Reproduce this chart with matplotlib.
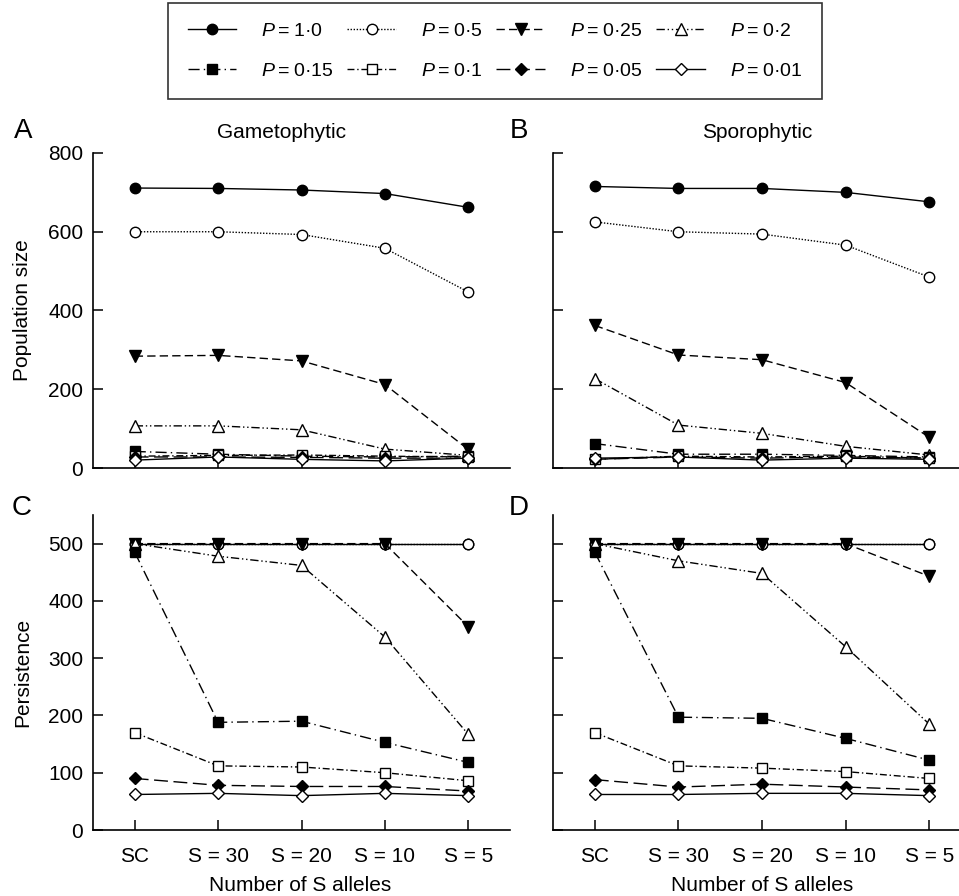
import matplotlib.pyplot as plt

plt.rcParams["font.family"] = ["Liberation Sans", "DejaVu Sans"]
plt.rcParams["mathtext.fontset"] = "custom"
plt.rcParams["mathtext.it"] = "Liberation Sans:italic"
plt.rcParams["mathtext.rm"] = "Liberation Sans"

categories = ["SC", "S = 30", "S = 20", "S = 10", "S = 5"]
p_labels = ["1·0", "0·5", "0·25", "0·2", "0·15", "0·1", "0·05", "0·01"]

# population size, gametophytic SI (panel A)
pop_gam = [
    [711, 710, 706, 697, 662],
    [600, 600, 593, 558, 447],
    [284, 286, 272, 212, 47],
    [107, 107, 97, 48, 32],
    [42, 35, 30, 28, 30],
    [30, 32, 33, 30, 28],
    [28, 28, 27, 25, 25],
    [20, 28, 22, 18, 25],
]
# population size, sporophytic SI (panel B)
pop_spo = [
    [715, 710, 710, 700, 676],
    [625, 600, 594, 566, 485],
    [362, 287, 275, 217, 78],
    [227, 109, 88, 55, 33],
    [62, 35, 35, 32, 28],
    [22, 30, 28, 30, 25],
    [22, 28, 25, 28, 25],
    [25, 28, 20, 25, 22],
]
# persistence, gametophytic SI (panel C)
pers_gam = [
    [500, 500, 500, 500, 500],
    [500, 500, 500, 500, 500],
    [500, 500, 500, 500, 355],
    [500, 478, 462, 337, 167],
    [485, 188, 190, 153, 118],
    [170, 112, 110, 100, 86],
    [90, 78, 76, 76, 68],
    [62, 64, 60, 64, 60],
]
# persistence, sporophytic SI (panel D)
pers_spo = [
    [500, 500, 500, 500, 500],
    [500, 500, 500, 500, 500],
    [500, 500, 500, 500, 443],
    [500, 470, 448, 320, 185],
    [485, 197, 195, 160, 122],
    [170, 112, 108, 102, 90],
    [88, 75, 80, 75, 70],
    [62, 62, 64, 64, 60],
]

styles = [
    dict(ls="-", marker="o", mfc="k", ms=7.5),
    dict(ls=(0, (1, 1.2)), marker="o", mfc="white", ms=7.5),
    dict(ls=(0, (6, 3)), marker="v", mfc="k", ms=8.5),
    dict(ls=(0, (6, 2, 1, 2, 1, 2)), marker="^", mfc="white", ms=8.5),
    dict(ls=(0, (8, 3, 1, 3)), marker="s", mfc="k", ms=6.5),
    dict(ls=(0, (5, 2, 1, 2)), marker="s", mfc="white", ms=6.5),
    dict(ls=(0, (10, 4)), marker="D", mfc="k", ms=6.5),
    dict(ls="-", marker="D", mfc="white", ms=6.5),
]

W, H = 959, 896
fig = plt.figure(figsize=(W / 100, H / 100), dpi=100)


def axes_at(left, top, right, bottom):
    return fig.add_axes([left / W, 1 - bottom / H, (right - left) / W, (bottom - top) / H])


axA = axes_at(93, 153, 510, 468)
axB = axes_at(553, 153, 971, 468)
axC = axes_at(93, 515, 510, 830)
axD = axes_at(553, 515, 971, 830)

x = list(range(len(categories)))
handles = []
for ax, series in [(axA, pop_gam), (axB, pop_spo), (axC, pers_gam), (axD, pers_spo)]:
    for i, (vals, st) in enumerate(zip(series, styles)):
        (ln,) = ax.plot(x, vals, color="k", lw=1.0, mec="k", mew=1.0,
                        label=f"$P$\u2009=\u2009{p_labels[i]}", clip_on=False, **st)
        if ax is axA:
            handles.append(ln)
    ax.set_xlim(-0.5, 4.5)
    ax.set_xticks(x)
    for side in ("top", "right"):
        ax.spines[side].set_visible(False)
    for side in ("left", "bottom"):
        ax.spines[side].set_linewidth(1.2)
    ax.tick_params(direction="in", length=7, width=1.1, labelsize=15, pad=7)
    ax.tick_params(axis="x", pad=12)

for ax in (axA, axB):
    ax.set_ylim(0, 800)
    ax.set_yticks([0, 200, 400, 600, 800])
    ax.set_xticklabels([])
for ax in (axC, axD):
    ax.set_ylim(0, 550)
    ax.set_yticks([0, 100, 200, 300, 400, 500])
    ax.set_xticklabels(categories)
for ax in (axB, axD):
    ax.set_yticklabels([])

axA.set_ylabel("Population size", fontsize=15)
axC.set_ylabel("Persistence", fontsize=15)
for ax in (axA, axC):
    ax.yaxis.set_label_coords(-61 / 417, 0.5)

fig.text(300 / W, 1 - 885 / H, "Number of S alleles", fontsize=15, ha="center", va="center")
fig.text(762 / W, 1 - 885 / H, "Number of S alleles", fontsize=15, ha="center", va="center")
fig.text(282 / W, 1 - 133 / H, "Gametophytic", fontsize=15, ha="center", va="center")
fig.text(757 / W, 1 - 133 / H, "Sporophytic", fontsize=15, ha="center", va="center")
for letter, px, py in [("A", 23, 131), ("B", 519, 131), ("C", 22, 508), ("D", 519, 508)]:
    fig.text(px / W, 1 - py / H, letter, fontsize=20, ha="center", va="center")

# legend filled row by row: 4 columns x 2 rows
order = [0, 4, 1, 5, 2, 6, 3, 7]
leg = fig.legend([handles[i] for i in order], [handles[i].get_label() for i in order],
                 ncol=4, loc="upper center", bbox_to_anchor=(495 / W, 1 - 3 / H),
                 fontsize=14, handlelength=2.5, handletextpad=1.3, columnspacing=0.7,
                 labelspacing=1.15, borderpad=1.0, borderaxespad=0,
                 fancybox=False, frameon=True)
leg.get_frame().set_edgecolor("k")
leg.get_frame().set_linewidth(1.2)

fig.savefig("out.png", dpi=100)
